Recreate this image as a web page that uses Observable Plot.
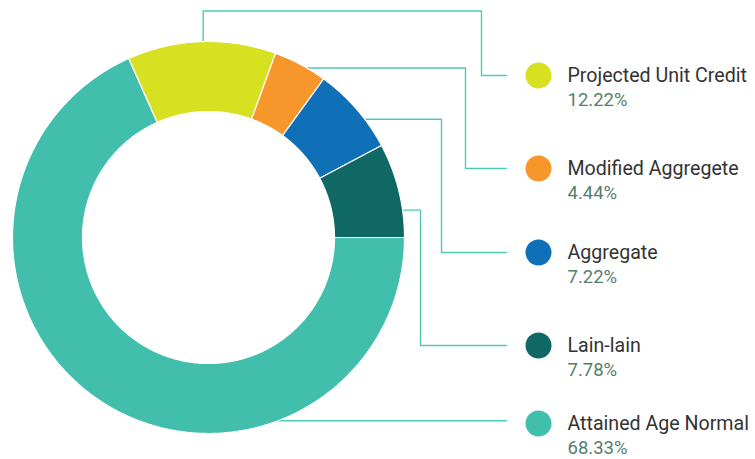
<!DOCTYPE html>
<html>
<head>
<meta charset="utf-8">
<script src="https://cdn.jsdelivr.net/npm/d3@7"></script>
<script src="https://cdn.jsdelivr.net/npm/@observablehq/plot@0.6"></script>
<style>
  html, body { margin: 0; padding: 0; background: #fff; }
  #chart { width: 755px; height: 459px; }
</style>
</head>
<body>
<div id="chart"></div>
<script>
// ---- data ----
const categories = ["Projected Unit Credit", "Modified Aggregete", "Aggregate", "Lain-lain", "Attained Age Normal"];
const shares = [12.22, 4.44, 7.22, 7.78, 68.33];
const shareLabels = ["12.22%", "4.44%", "7.22%", "7.78%", "68.33%"];
const colors = ["#d7e021", "#f7962a", "#0f6fb7", "#106864", "#41bfac"];
// drawing order around the ring (clockwise from 3 o'clock)
const ringOrder = ["Attained Age Normal", "Projected Unit Credit", "Modified Aggregete", "Aggregate", "Lain-lain"];

// ---- layout ----
const W = 755, H = 459;
const cx = 208, cy = 237, R = 196, r0 = 126;
const legendX = 538, textX = 567, lineEndX = 506;
const legendY = [75, 168, 252, 345, 423];
const anchorDeg = [-1.6, 28, 52, 81.8, 162.6];
const elbowX = [481, 465, 441, 420, null];
const topRouteY = 10.5;

const rows = categories.map((name, i) => ({name, share: shares[i], label: shareLabels[i]}));
const byName = new Map(rows.map(d => [d.name, d]));

const pie = d3.pie().sort(null).value(d => d.share)
  .startAngle(Math.PI / 2).endAngle(Math.PI / 2 + 2 * Math.PI);
const arcs = pie(ringOrder.map(n => byName.get(n)));

const pt = (a, rad) => [cx + rad * Math.sin(a), cy - rad * Math.cos(a)];

// slice polygons
const slicePts = [];
for (const a of arcs) {
  const n = Math.max(8, Math.ceil((a.endAngle - a.startAngle) / 0.01));
  const poly = [];
  for (let k = 0; k <= n; k++) poly.push(pt(a.startAngle + (a.endAngle - a.startAngle) * k / n, R));
  for (let k = n; k >= 0; k--) poly.push(pt(a.startAngle + (a.endAngle - a.startAngle) * k / n, r0));
  poly.push(poly[0]);
  poly.forEach(([x, y], j) => slicePts.push({name: a.data.name, x, y, j}));
}

// leader lines
const leaderPts = [];
rows.forEach((d, i) => {
  const a = anchorDeg[i] * Math.PI / 180;
  const [ax, ay] = pt(a, R - 4);
  let path;
  if (i === 0) {
    path = [[ax, ay], [ax, topRouteY], [elbowX[i], topRouteY], [elbowX[i], legendY[i]], [lineEndX, legendY[i]]];
  } else if (elbowX[i] != null) {
    path = [[ax, ay], [elbowX[i], ay], [elbowX[i], legendY[i]], [lineEndX, legendY[i]]];
  } else {
    path = [[ax, ay], [lineEndX, ay]];
  }
  path.forEach(([x, y]) => leaderPts.push({name: d.name, x, y}));
});

const legendRows = rows.map((d, i) => ({...d, y: legendY[i]}));

const chart = Plot.plot({
  width: W,
  height: H,
  margin: 0,
  x: {domain: [0, W], range: [0, W], axis: null},
  y: {domain: [0, H], range: [0, H], axis: null},
  color: {domain: categories, range: colors},
  style: {fontFamily: "Roboto, sans-serif", background: "#fff"},
  marks: [
    Plot.line(leaderPts, {x: "x", y: "y", z: "name", stroke: "#4ecab7", strokeWidth: 1.4}),
    Plot.line(slicePts, {x: "x", y: "y", z: "name", fill: "name", stroke: "#fff", strokeWidth: 1.2, strokeLinejoin: "round"}),
    Plot.dot(legendRows, {x: () => legendX, y: "y", r: 13, fill: "name", stroke: null}),
    Plot.text(legendRows, {x: () => textX, y: d => d.y + 6.5, text: "name", textAnchor: "start", lineAnchor: "bottom", fontSize: 19.6, fill: "#333333"}),
    Plot.text(legendRows, {x: () => textX, y: d => d.y + 30.5, text: "label", textAnchor: "start", lineAnchor: "bottom", fontSize: 18.5, fill: "#567e6c"})
  ]
});
document.getElementById("chart").appendChild(chart);
</script>
</body>
</html>
